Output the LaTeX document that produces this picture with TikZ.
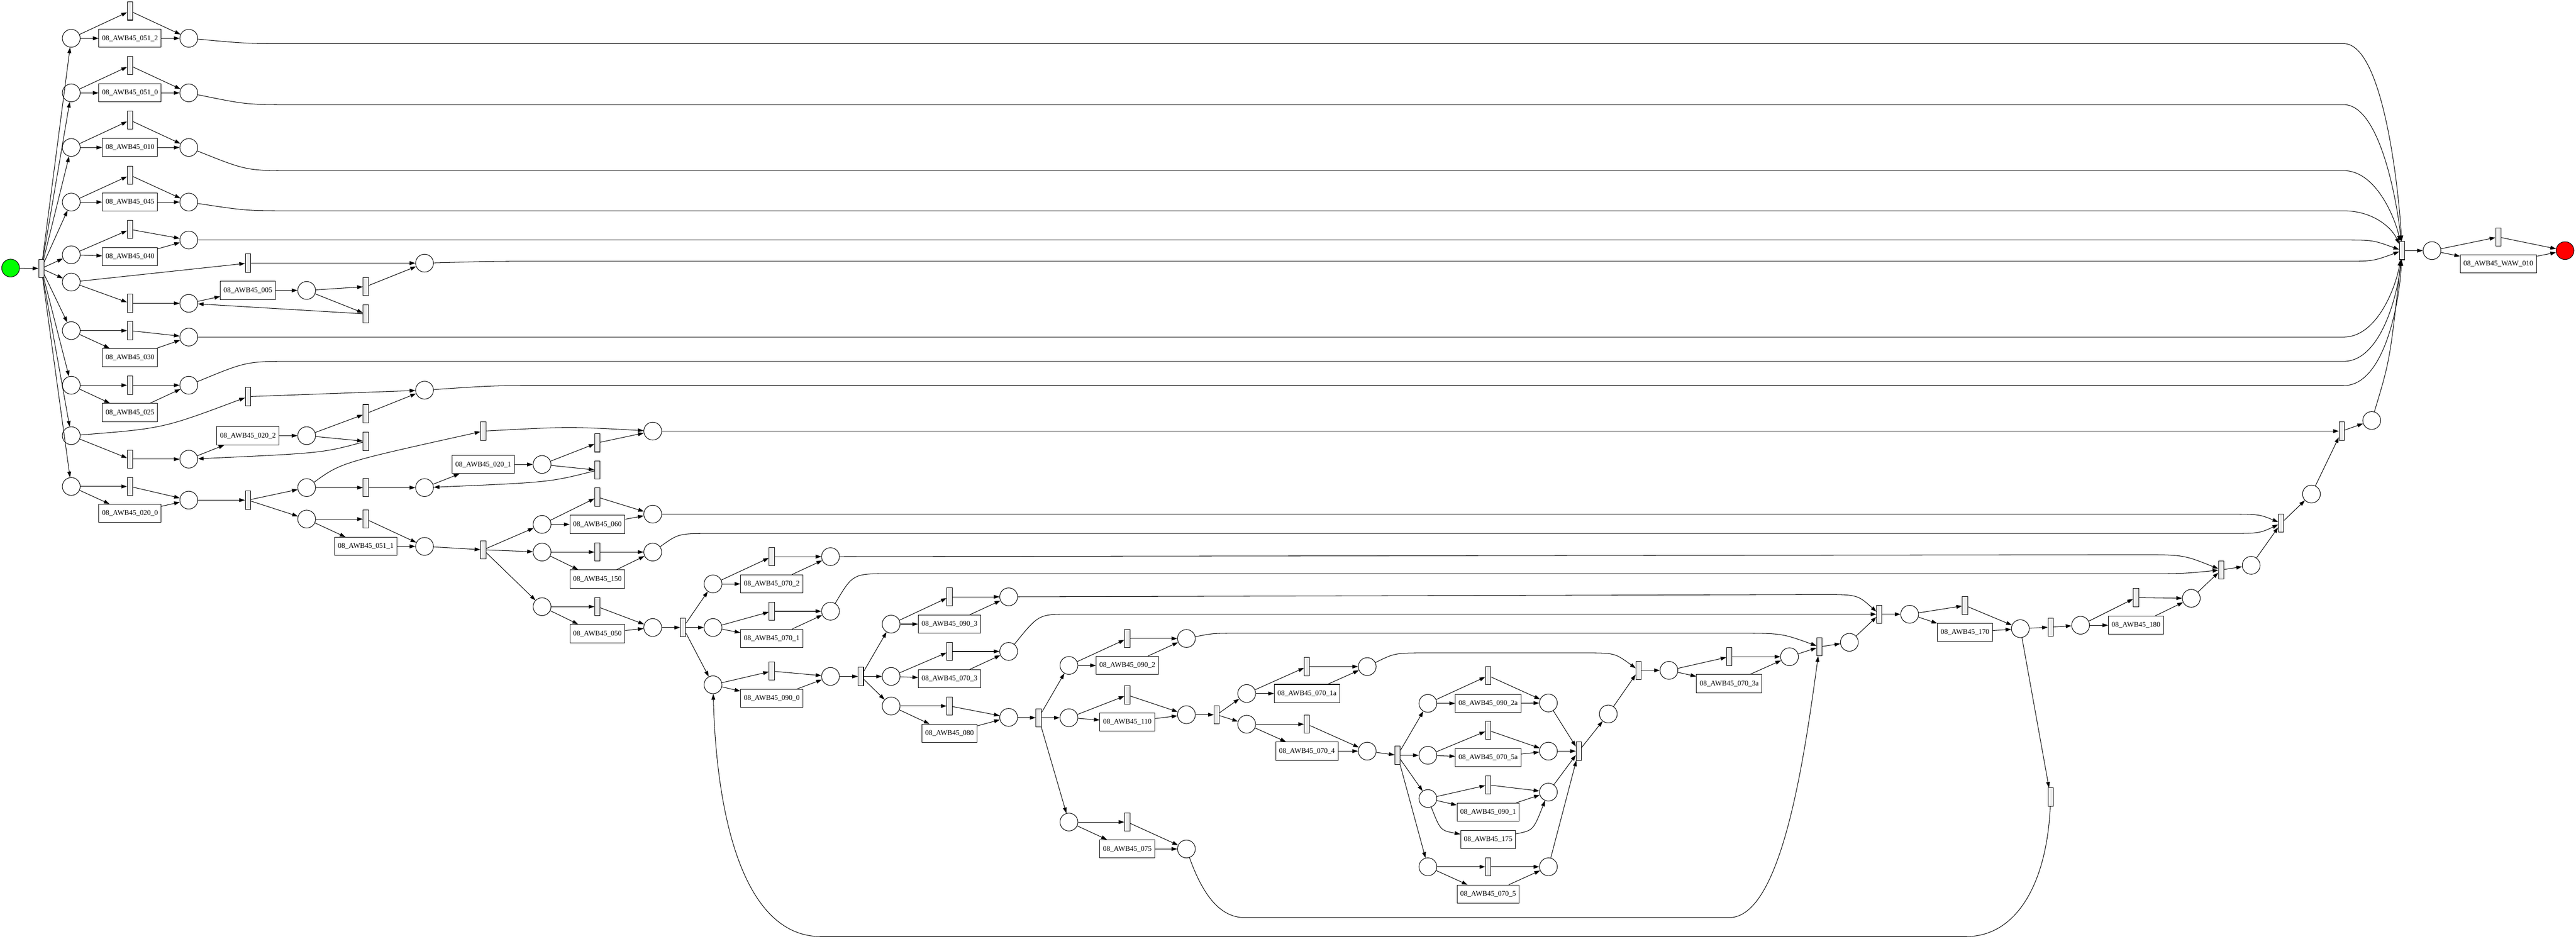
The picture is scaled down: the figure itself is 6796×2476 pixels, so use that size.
\documentclass[tikz,border=0pt]{standalone}
\usepackage{fontspec}
\setmainfont{Liberation Serif}
\usetikzlibrary{arrows.meta}
\definecolor{startgreen}{HTML}{00FF00}
\definecolor{endred}{HTML}{FF0000}
\definecolor{transgray}{HTML}{EEEEEE}

\begin{document}
\begin{tikzpicture}[x=0.01cm, y=-0.01cm,
    place/.style={circle, draw, minimum size=0.47cm, inner sep=0pt},
    trans/.style={rectangle, draw, fill=transgray, minimum width=0.14cm, minimum height=0.48cm, inner sep=0pt},
    act/.style={rectangle, draw, minimum height=0.48cm, inner xsep=0.085cm, inner ysep=0pt, font=\fontsize{5.4}{6}\selectfont},
    flow/.style={-{Triangle[length=0.15cm, width=0.1cm]}}]
    \useasboundingbox (0,0) rectangle (6796,2476);

    % Start and first split
    \node[place, fill=startgreen] (start) at (28,707) {};
    \node[trans] (t0) at (109,708) {};
    \node[place] (p1) at (188,101) {};
    \node[place] (p2) at (188,245) {};
    \node[place] (p3) at (188,389) {};
    \node[place] (p4) at (188,533) {};
    \node[place] (p5) at (188,672) {};
    \node[place] (p6) at (188,744) {};
    \node[place] (p7) at (188,872) {};
    \node[place] (p8) at (188,1016) {};
    \node[place] (p9) at (188,1149) {};
    \node[place] (p10) at (188,1283) {};

    % Upper branches
    \node[trans] (t1) at (343,29) {};
    \node[act] (n0512) at (343,101) {08\_AWB45\_051\_2};
    \node[place] (p1e) at (498,101) {};
    \node[trans] (t2) at (343,173) {};
    \node[act] (n0510) at (343,245) {08\_AWB45\_051\_0};
    \node[place] (p2e) at (498,245) {};
    \node[trans] (t3) at (343,317) {};
    \node[act] (n010) at (343,389) {08\_AWB45\_010};
    \node[place] (p3e) at (498,389) {};
    \node[trans] (t4) at (343,462) {};
    \node[act] (n045) at (343,533) {08\_AWB45\_045};
    \node[place] (p4e) at (498,533) {};
    \node[trans] (t5) at (343,605) {};
    \node[act] (n040) at (343,677) {08\_AWB45\_040};
    \node[place] (p5e) at (498,633) {};

    % Loop around 005
    \node[trans] (t6a) at (654,694) {};
    \node[trans] (t6b) at (343,800) {};
    \node[place] (p6b) at (498,800) {};
    \node[act] (n005) at (654,766) {08\_AWB45\_005};
    \node[place] (p6c) at (809,766) {};
    \node[trans] (t6c) at (965,756) {};
    \node[trans] (t6d) at (965,828) {};
    \node[place] (p6e) at (1120,694) {};

    \node[trans] (t7) at (343,872) {};
    \node[act] (n030) at (343,943) {08\_AWB45\_030};
    \node[place] (p7e) at (498,889) {};
    \node[trans] (t8) at (343,1016) {};
    \node[act] (n025) at (343,1088) {08\_AWB45\_025};
    \node[place] (p8e) at (498,1016) {};

    % Loop around 020_2
    \node[trans] (t9a) at (654,1046) {};
    \node[trans] (t9b) at (343,1211) {};
    \node[place] (p9b) at (498,1211) {};
    \node[act] (n0202) at (654,1149) {08\_AWB45\_020\_2};
    \node[place] (p9c) at (809,1149) {};
    \node[trans] (t9c) at (965,1091) {};
    \node[trans] (t9d) at (965,1164) {};
    \node[place] (p9e) at (1120,1029) {};

    % 020_0 and its split
    \node[trans] (t10a) at (343,1283) {};
    \node[act] (n0200) at (343,1354) {08\_AWB45\_020\_0};
    \node[place] (p10b) at (498,1319) {};
    \node[trans] (t10b) at (654,1319) {};
    \node[place] (p10c) at (809,1286) {};
    \node[place] (p10d) at (809,1369) {};
    \node[trans] (t11a) at (1275,1137) {};
    \node[trans] (t11b) at (965,1286) {};
    \node[place] (p11) at (1120,1286) {};
    \node[act] (n0201) at (1275,1225) {08\_AWB45\_020\_1};
    \node[place] (p11b) at (1430,1225) {};
    \node[trans] (t11c) at (1576,1168) {};
    \node[trans] (t11d) at (1576,1240) {};
    \node[place] (p11e) at (1722,1137) {};
    \node[trans] (t12a) at (965,1369) {};
    \node[act] (n0511) at (965,1441) {08\_AWB45\_051\_1};
    \node[place] (p12) at (1120,1441) {};
    \node[trans] (t12b) at (1275,1450) {};

    % 060 / 150 / 050
    \node[place] (p13) at (1430,1383) {};
    \node[trans] (t13) at (1576,1311) {};
    \node[act] (n060) at (1576,1383) {08\_AWB45\_060};
    \node[place] (p13e) at (1722,1356) {};
    \node[place] (p14) at (1430,1456) {};
    \node[trans] (t14) at (1576,1456) {};
    \node[act] (n150) at (1576,1527) {08\_AWB45\_150};
    \node[place] (p14e) at (1722,1456) {};
    \node[place] (p15) at (1430,1600) {};
    \node[trans] (t15) at (1576,1600) {};
    \node[act] (n050) at (1576,1671) {08\_AWB45\_050};
    \node[place] (p15e) at (1722,1655) {};
    \node[trans] (t15b) at (1802,1655) {};

    % 070_2 / 070_1 / 090_0
    \node[place] (q1) at (1881,1540) {};
    \node[trans] (tq1) at (2036,1468) {};
    \node[act] (n0702) at (2036,1540) {08\_AWB45\_070\_2};
    \node[place] (q1e) at (2191,1468) {};
    \node[place] (q2) at (1881,1655) {};
    \node[trans] (tq2) at (2036,1612) {};
    \node[act] (n0701) at (2036,1684) {08\_AWB45\_070\_1};
    \node[place] (q2e) at (2191,1612) {};
    \node[place] (q3) at (1881,1806) {};
    \node[trans] (tq3) at (2036,1770) {};
    \node[act] (n0900) at (2036,1842) {08\_AWB45\_090\_0};
    \node[place] (q3e) at (2191,1784) {};
    \node[trans] (tq3b) at (2271,1784) {};

    % 090_3 / 070_3 / 080
    \node[place] (r1) at (2351,1646) {};
    \node[trans] (tr1) at (2505,1574) {};
    \node[act] (n0903) at (2505,1646) {08\_AWB45\_090\_3};
    \node[place] (r1e) at (2661,1574) {};
    \node[place] (r2) at (2351,1784) {};
    \node[trans] (tr2) at (2505,1718) {};
    \node[act] (n0703) at (2505,1790) {08\_AWB45\_070\_3};
    \node[place] (r2e) at (2661,1718) {};
    \node[place] (r3) at (2351,1862) {};
    \node[trans] (tr3) at (2505,1862) {};
    \node[act] (n080) at (2505,1934) {08\_AWB45\_080};
    \node[place] (r3e) at (2661,1892) {};
    \node[trans] (tr3b) at (2740,1893) {};

    % 090_2 / 110 / 075
    \node[place] (s1) at (2820,1755) {};
    \node[trans] (ts1) at (2974,1684) {};
    \node[act] (n0902) at (2974,1755) {08\_AWB45\_090\_2};
    \node[place] (s1e) at (3130,1684) {};
    \node[place] (s2) at (2820,1893) {};
    \node[trans] (ts2) at (2974,1833) {};
    \node[act] (n110) at (2974,1904) {08\_AWB45\_110};
    \node[place] (s2e) at (3130,1885) {};
    \node[place] (s3) at (2820,2168) {};
    \node[trans] (ts3) at (2974,2168) {};
    \node[act] (n075) at (2974,2239) {08\_AWB45\_075};
    \node[place] (s3e) at (3130,2239) {};
    \node[trans] (ts2b) at (3210,1885) {};

    % 070_1a / 070_4
    \node[place] (u1) at (3289,1829) {};
    \node[trans] (tu1) at (3448,1758) {};
    \node[act] (n0701a) at (3448,1829) {08\_AWB45\_070\_1a};
    \node[place] (u1e) at (3607,1758) {};
    \node[place] (u2) at (3289,1910) {};
    \node[trans] (tu2) at (3448,1910) {};
    \node[act] (n0704) at (3448,1981) {08\_AWB45\_070\_4};
    \node[place] (u2e) at (3607,1981) {};
    \node[trans] (tu2b) at (3687,1992) {};

    % four parallel branches
    \node[place] (v1) at (3767,1855) {};
    \node[trans] (tv1) at (3926,1782) {};
    \node[act] (n0902a) at (3926,1855) {08\_AWB45\_090\_2a};
    \node[place] (v1e) at (4085,1854) {};
    \node[place] (v2) at (3767,1992) {};
    \node[trans] (tv2) at (3926,1926) {};
    \node[act] (n0705a) at (3926,1998) {08\_AWB45\_070\_5a};
    \node[place] (v2e) at (4085,1981) {};
    \node[place] (v3) at (3767,2106) {};
    \node[trans] (tv3) at (3926,2070) {};
    \node[act] (n0901) at (3926,2142) {08\_AWB45\_090\_1};
    \node[act] (n175) at (3926,2214) {08\_AWB45\_175};
    \node[place] (v3e) at (4085,2089) {};
    \node[place] (v4) at (3767,2286) {};
    \node[trans] (tv4) at (3926,2286) {};
    \node[act] (n0705) at (3926,2358) {08\_AWB45\_070\_5};
    \node[place] (v4e) at (4085,2286) {};

    % joins towards the end
    \node[trans] (tj1) at (4165,1981) {};
    \node[place] (w1) at (4243,1883) {};
    \node[trans] (tj2) at (4323,1768) {};
    \node[place] (w2) at (4403,1768) {};
    \node[trans] (tw2) at (4562,1732) {};
    \node[act] (n0703a) at (4562,1803) {08\_AWB45\_070\_3a};
    \node[place] (w2e) at (4721,1732) {};
    \node[trans] (tj3) at (4800,1706) {};
    \node[place] (w3) at (4879,1694) {};
    \node[trans] (tj4) at (4958,1620) {};
    \node[place] (w4) at (5038,1620) {};
    \node[trans] (tw4) at (5184,1597) {};
    \node[act] (n170) at (5184,1668) {08\_AWB45\_170};
    \node[place] (w4e) at (5330,1658) {};
    \node[trans] (tback) at (5410,2102) {};
    \node[trans] (tx0) at (5410,1654) {};
    \node[place] (x1) at (5489,1649) {};
    \node[trans] (tx1) at (5635,1576) {};
    \node[act] (n180) at (5635,1649) {08\_AWB45\_180};
    \node[place] (x1e) at (5781,1578) {};
    \node[trans] (tj5) at (5860,1503) {};
    \node[place] (x2) at (5939,1491) {};
    \node[trans] (tj6) at (6018,1380) {};
    \node[place] (x3) at (6098,1303) {};
    \node[trans] (tj7) at (6178,1137) {};
    \node[place] (x4) at (6257,1109) {};

    % Sink
    \node[trans] (tS) at (6337,661) {};
    \node[place] (y1) at (6416,661) {};
    \node[trans] (tW) at (6591,625) {};
    \node[act] (nwaw) at (6591,696) {08\_AWB45\_WAW\_010};
    \node[place, fill=endred] (final) at (6767,661) {};

    % Arcs: start
    \draw[flow] (start) -- (t0);
    \draw[flow] (t0) -- (p1);
    \draw[flow] (t0) -- (p2);
    \draw[flow] (t0) -- (p3);
    \draw[flow] (t0) -- (p4);
    \draw[flow] (t0) -- (p5);
    \draw[flow] (t0) -- (p6);
    \draw[flow] (t0) -- (p7);
    \draw[flow] (t0) -- (p8);
    \draw[flow] (t0) -- (p9);
    \draw[flow] (t0) -- (p10);

    % Arcs: simple choices
    \draw[flow] (p1) -- (t1); \draw[flow] (t1) -- (p1e); \draw[flow] (p1) -- (n0512); \draw[flow] (n0512) -- (p1e);
    \draw[flow] (p2) -- (t2); \draw[flow] (t2) -- (p2e); \draw[flow] (p2) -- (n0510); \draw[flow] (n0510) -- (p2e);
    \draw[flow] (p3) -- (t3); \draw[flow] (t3) -- (p3e); \draw[flow] (p3) -- (n010); \draw[flow] (n010) -- (p3e);
    \draw[flow] (p4) -- (t4); \draw[flow] (t4) -- (p4e); \draw[flow] (p4) -- (n045); \draw[flow] (n045) -- (p4e);
    \draw[flow] (p5) -- (t5); \draw[flow] (t5) -- (p5e); \draw[flow] (p5) -- (n040); \draw[flow] (n040) -- (p5e);
    \draw[flow] (p7) -- (t7); \draw[flow] (t7) -- (p7e); \draw[flow] (p7) -- (n030); \draw[flow] (n030) -- (p7e);
    \draw[flow] (p8) -- (t8); \draw[flow] (t8) -- (p8e); \draw[flow] (p8) -- (n025); \draw[flow] (n025) -- (p8e);

    % Arcs: loop around 005
    \draw[flow] (p6) -- (t6a); \draw[flow] (t6a) -- (p6e);
    \draw[flow] (p6) -- (t6b); \draw[flow] (t6b) -- (p6b); \draw[flow] (p6b) -- (n005); \draw[flow] (n005) -- (p6c);
    \draw[flow] (p6c) -- (t6c); \draw[flow] (t6c) -- (p6e); \draw[flow] (p6c) -- (t6d); \draw[flow] (t6d) -- (p6b);

    % Arcs: loop around 020_2
    \draw[flow] (p9) .. controls (430,1130) .. (t9a); \draw[flow] (t9a) -- (p9e);
    \draw[flow] (p9) -- (t9b); \draw[flow] (t9b) -- (p9b); \draw[flow] (p9b) -- (n0202); \draw[flow] (n0202) -- (p9c);
    \draw[flow] (p9c) -- (t9c); \draw[flow] (t9c) -- (p9e); \draw[flow] (p9c) -- (t9d); \draw[flow] (t9d) .. controls (850,1195) .. (p9b);

    % Arcs: 020_0, 020_1, 051_1
    \draw[flow] (p10) -- (t10a); \draw[flow] (t10a) -- (p10b); \draw[flow] (p10) -- (n0200); \draw[flow] (n0200) -- (p10b);
    \draw[flow] (p10b) -- (t10b); \draw[flow] (t10b) -- (p10c); \draw[flow] (t10b) -- (p10d);
    \draw[flow] (p10c) .. controls (900,1220) .. (t11a); \draw[flow] (t11a) .. controls (1500,1125) .. (p11e);
    \draw[flow] (p10c) -- (t11b); \draw[flow] (t11b) -- (p11); \draw[flow] (p11) -- (n0201); \draw[flow] (n0201) -- (p11b);
    \draw[flow] (p11b) -- (t11c); \draw[flow] (t11c) -- (p11e); \draw[flow] (p11b) -- (t11d); \draw[flow] (t11d) .. controls (1450,1272) .. (p11);
    \draw[flow] (p10d) -- (t12a); \draw[flow] (t12a) -- (p12); \draw[flow] (p10d) -- (n0511); \draw[flow] (n0511) -- (p12);
    \draw[flow] (p12) -- (t12b); \draw[flow] (t12b) -- (p13); \draw[flow] (t12b) -- (p14); \draw[flow] (t12b) -- (p15);

    % Arcs: 060, 150, 050
    \draw[flow] (p13) -- (t13); \draw[flow] (t13) -- (p13e); \draw[flow] (p13) -- (n060); \draw[flow] (n060) -- (p13e);
    \draw[flow] (p14) -- (t14); \draw[flow] (t14) -- (p14e); \draw[flow] (p14) -- (n150); \draw[flow] (n150) -- (p14e);
    \draw[flow] (p15) -- (t15); \draw[flow] (t15) -- (p15e); \draw[flow] (p15) -- (n050); \draw[flow] (n050) -- (p15e);
    \draw[flow] (p15e) -- (t15b); \draw[flow] (t15b) -- (q1); \draw[flow] (t15b) -- (q2); \draw[flow] (t15b) -- (q3);

    % Arcs: 070_2, 070_1, 090_0
    \draw[flow] (q1) -- (tq1); \draw[flow] (tq1) -- (q1e); \draw[flow] (q1) -- (n0702); \draw[flow] (n0702) -- (q1e);
    \draw[flow] (q2) -- (tq2); \draw[flow] (tq2) -- (q2e); \draw[flow] (q2) -- (n0701); \draw[flow] (n0701) -- (q2e);
    \draw[flow] (q3) -- (tq3); \draw[flow] (tq3) -- (q3e); \draw[flow] (q3) -- (n0900); \draw[flow] (n0900) -- (q3e);
    \draw[flow] (q3e) -- (tq3b); \draw[flow] (tq3b) -- (r1); \draw[flow] (tq3b) -- (r2); \draw[flow] (tq3b) -- (r3);

    % Arcs: 090_3, 070_3, 080
    \draw[flow] (r1) -- (tr1); \draw[flow] (tr1) -- (r1e); \draw[flow] (r1) -- (n0903); \draw[flow] (n0903) -- (r1e);
    \draw[flow] (r2) -- (tr2); \draw[flow] (tr2) -- (r2e); \draw[flow] (r2) -- (n0703); \draw[flow] (n0703) -- (r2e);
    \draw[flow] (r3) -- (tr3); \draw[flow] (tr3) -- (r3e); \draw[flow] (r3) -- (n080); \draw[flow] (n080) -- (r3e);
    \draw[flow] (r3e) -- (tr3b); \draw[flow] (tr3b) -- (s1); \draw[flow] (tr3b) -- (s2); \draw[flow] (tr3b) -- (s3);

    % Arcs: 090_2, 110, 075
    \draw[flow] (s1) -- (ts1); \draw[flow] (ts1) -- (s1e); \draw[flow] (s1) -- (n0902); \draw[flow] (n0902) -- (s1e);
    \draw[flow] (s2) -- (ts2); \draw[flow] (ts2) -- (s2e); \draw[flow] (s2) -- (n110); \draw[flow] (n110) -- (s2e);
    \draw[flow] (s3) -- (ts3); \draw[flow] (ts3) -- (s3e); \draw[flow] (s3) -- (n075); \draw[flow] (n075) -- (s3e);
    \draw[flow] (s2e) -- (ts2b); \draw[flow] (ts2b) -- (u1); \draw[flow] (ts2b) -- (u2);

    % Arcs: 070_1a, 070_4
    \draw[flow] (u1) -- (tu1); \draw[flow] (tu1) -- (u1e); \draw[flow] (u1) -- (n0701a); \draw[flow] (n0701a) -- (u1e);
    \draw[flow] (u2) -- (tu2); \draw[flow] (tu2) -- (u2e); \draw[flow] (u2) -- (n0704); \draw[flow] (n0704) -- (u2e);
    \draw[flow] (u2e) -- (tu2b); \draw[flow] (tu2b) -- (v1); \draw[flow] (tu2b) -- (v2); \draw[flow] (tu2b) -- (v3); \draw[flow] (tu2b) -- (v4);

    % Arcs: four branches and their join
    \draw[flow] (v1) -- (tv1); \draw[flow] (tv1) -- (v1e); \draw[flow] (v1) -- (n0902a); \draw[flow] (n0902a) -- (v1e);
    \draw[flow] (v2) -- (tv2); \draw[flow] (tv2) -- (v2e); \draw[flow] (v2) -- (n0705a); \draw[flow] (n0705a) -- (v2e);
    \draw[flow] (v3) -- (tv3); \draw[flow] (tv3) -- (v3e); \draw[flow] (v3) -- (n0901); \draw[flow] (n0901) -- (v3e);
    \draw[flow] (v3) .. controls (3800,2190) .. (n175); \draw[flow] (n175) .. controls (4045,2190) .. (v3e);
    \draw[flow] (v4) -- (tv4); \draw[flow] (tv4) -- (v4e); \draw[flow] (v4) -- (n0705); \draw[flow] (n0705) -- (v4e);
    \draw[flow] (v1e) -- (tj1); \draw[flow] (v2e) -- (tj1); \draw[flow] (v3e) -- (tj1); \draw[flow] (v4e) -- (tj1);
    \draw[flow] (tj1) -- (w1); \draw[flow] (w1) -- (tj2);

    % Arcs: towards the end
    \draw[flow] (u1e) .. controls (3680,1722) .. (3766,1722) -- (4180,1722) .. controls (4260,1722) .. (tj2);
    \draw[flow] (tj2) -- (w2); \draw[flow] (w2) -- (tw2); \draw[flow] (tw2) -- (w2e); \draw[flow] (w2) -- (n0703a); \draw[flow] (n0703a) -- (w2e);
    \draw[flow] (w2e) -- (tj3);
    \draw[flow] (s1e) .. controls (3200,1670) .. (3275,1670) -- (4580,1670) .. controls (4700,1670) .. (tj3);
    \draw[flow] (s3e) .. controls (3180,2380) and (3230,2420) .. (3284,2420) -- (4562,2420) .. controls (4700,2420) and (4760,2000) .. (tj3);
    \draw[flow] (tj3) -- (w3); \draw[flow] (w3) -- (tj4);
    \draw[flow] (r1e) -- (4804,1568) .. controls (4900,1568) .. (tj4);
    \draw[flow] (r2e) .. controls (2740,1620) .. (2820,1620) -- (tj4);
    \draw[flow] (tj4) -- (w4); \draw[flow] (w4) -- (tw4); \draw[flow] (tw4) -- (w4e); \draw[flow] (w4) -- (n170); \draw[flow] (n170) -- (w4e);
    \draw[flow] (w4e) -- (tx0); \draw[flow] (w4e) -- (tback);
    \draw[flow] (tback) .. controls (5400,2330) and (5320,2470) .. (5187,2470) -- (2166,2470) .. controls (1960,2470) and (1890,2150) .. (q3);
    \draw[flow] (tx0) -- (x1); \draw[flow] (x1) -- (tx1); \draw[flow] (tx1) -- (x1e); \draw[flow] (x1) -- (n180); \draw[flow] (n180) -- (x1e);
    \draw[flow] (x1e) -- (tj5);
    \draw[flow] (q1e) -- (5639,1463) .. controls (5760,1463) .. (tj5);
    \draw[flow] (q2e) .. controls (2250,1513) .. (2345,1513) -- (5639,1513) .. controls (5760,1513) .. (tj5);
    \draw[flow] (tj5) -- (x2); \draw[flow] (x2) -- (tj6);
    \draw[flow] (p13e) -- (5863,1356) .. controls (5960,1356) .. (tj6);
    \draw[flow] (p14e) .. controls (1790,1407) .. (1877,1407) -- (5863,1407) .. controls (5960,1407) .. (tj6);
    \draw[flow] (tj6) -- (x3); \draw[flow] (x3) -- (tj7);
    \draw[flow] (p11e) -- (tj7);
    \draw[flow] (tj7) -- (x4);

    % Arcs: into the sink transition
    \draw[flow] (p1e) .. controls (650,115) .. (772,115) -- (6183,115) .. controls (6290,115) and (6330,520) .. (tS);
    \draw[flow] (p2e) .. controls (650,276) .. (772,276) -- (6183,276) .. controls (6280,276) and (6325,540) .. (tS);
    \draw[flow] (p3e) .. controls (650,450) .. (772,450) -- (6183,450) .. controls (6270,450) and (6320,580) .. (tS);
    \draw[flow] (p4e) .. controls (650,556) .. (772,556) -- (6183,556) .. controls (6260,556) and (6310,600) .. (tS);
    \draw[flow] (p5e) -- (6183,633) .. controls (6260,633) .. (tS);
    \draw[flow] (p6e) .. controls (1300,689) .. (1421,689) -- (6183,689) .. controls (6260,689) .. (tS);
    \draw[flow] (p7e) -- (6183,889) .. controls (6270,889) and (6320,760) .. (tS);
    \draw[flow] (p8e) .. controls (650,953) .. (772,953) -- (6183,953) .. controls (6280,953) and (6325,780) .. (tS);
    \draw[flow] (p9e) .. controls (1300,1017) .. (1421,1017) -- (6183,1017) .. controls (6290,1017) and (6330,800) .. (tS);
    \draw[flow] (x4) .. controls (6305,950) .. (tS);

    % Arcs: last part
    \draw[flow] (tS) -- (y1);
    \draw[flow] (y1) -- (tW); \draw[flow] (tW) -- (final);
    \draw[flow] (y1) -- (nwaw); \draw[flow] (nwaw) -- (final);
\end{tikzpicture}
\end{document}
